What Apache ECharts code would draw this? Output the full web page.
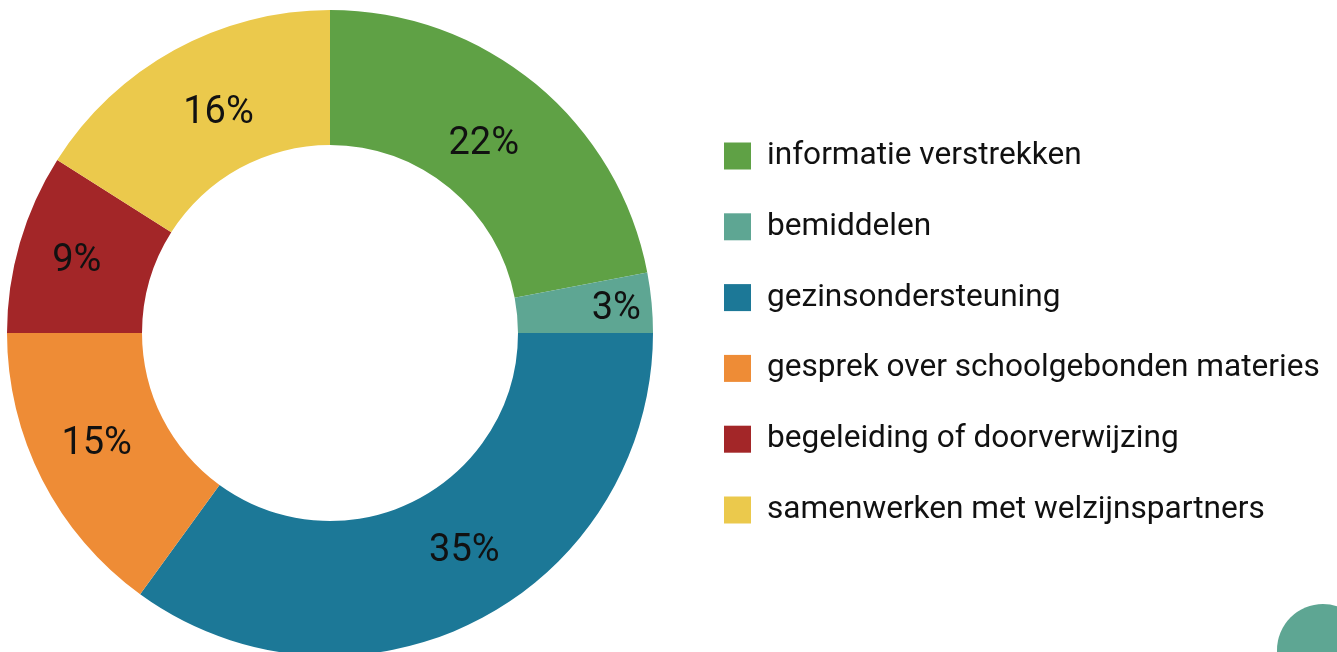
<!DOCTYPE html>
<html>
<head>
<meta charset="utf-8">
<script src="https://cdn.jsdelivr.net/npm/echarts@6/dist/echarts.min.js"></script>
<style>
  html, body { margin: 0; padding: 0; background: #fff; }
  #chart { width: 1337px; height: 652px; }
</style>
</head>
<body>
<div id="chart"></div>
<script>
// categories and shares (%)
const categories = [
  "informatie verstrekken",
  "bemiddelen",
  "gezinsondersteuning",
  "gesprek over schoolgebonden materies",
  "begeleiding of doorverwijzing",
  "samenwerken met welzijnspartners"
];
const values = [22, 3, 35, 15, 9, 16];
const colors = ["#5fa145", "#5ea693", "#1c7897", "#ee8c36", "#a32628", "#ebc94c"];

// small nudges so the labels sit where the original put them
const labelNudge = [[-11, 11], [29, 1], [17, -12], [-3, -6], [-5, 1], [13, 7]];

const chart = echarts.init(document.getElementById("chart"));

const option = {
  animation: false,
  color: colors,
  textStyle: { fontFamily: "Roboto" },
  legend: {
    orient: "vertical",
    left: 724,
    top: 140,
    padding: 0,
    itemWidth: 27,
    itemHeight: 27,
    itemGap: 38.8,
    icon: "rect",
    textStyle: { fontSize: 31.6, lineHeight: 27, color: "#111", padding: [0, 0, 0, 11] },
    data: categories
  },
  graphic: [
    {
      type: "circle",
      shape: { cx: 1323, cy: 650, r: 46 },
      style: { fill: "#5ea693" }
    }
  ],
  series: [
    {
      type: "pie",
      center: [330, 333],
      radius: [188, 323],
      startAngle: 90,
      clockwise: true,
      label: {
        show: true,
        position: "inside",
        formatter: "{c}%",
        fontSize: 38,
        color: "#111"
      },
      labelLine: { show: false },
      emphasis: { disabled: true },
      data: categories.map((name, i) => ({
        name: name,
        value: values[i],
        label: { offset: labelNudge[i] }
      }))
    }
  ]
};

chart.setOption(option);
</script>
</body>
</html>
